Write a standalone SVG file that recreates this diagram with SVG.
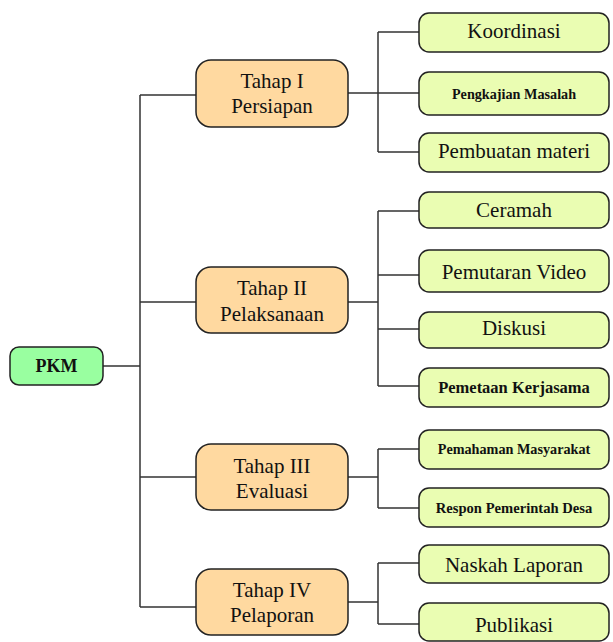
<svg xmlns="http://www.w3.org/2000/svg" width="613" height="642" viewBox="0 0 613 642">
<style>
.root{fill:#99FFA0;stroke:#222;stroke-width:1.5}
.stage{fill:#FFD9A0;stroke:#222;stroke-width:1.5}
.leaf{fill:#EAFDB2;stroke:#222;stroke-width:1.5}
.t{font-family:"Liberation Serif","Times New Roman",serif;fill:#111;text-anchor:middle}
.n{font-size:21px}
.b{font-weight:bold}
.conn{fill:none;stroke:#333;stroke-width:1.5}
</style>
<g id="connectors" class="conn">
<path d="M103 366H140M140 95V607M140 95H196M140 302H196M140 477H196M140 607H196"/>
<path d="M348 93H378M378 32V152M378 32H419M378 93H419M378 152H419"/>
<path d="M348 302H378M378 211V386M378 211H419M378 275H419M378 329H419M378 386H419"/>
<path d="M348 477H378M378 449V508M378 449H419M378 508H419"/>
<path d="M348 602H378M378 563V624M378 563H419M378 624H419"/>
</g>
<g id="pkm"><rect class="root" x="10" y="347" width="93" height="38" rx="9"/><text class="t b" x="56.5" y="372" font-size="18">PKM</text></g>
<g id="tahap1"><rect class="stage" x="196" y="60" width="152" height="67" rx="15"/><text class="t n" x="272" y="88">Tahap I</text><text class="t n" x="272" y="113">Persiapan</text></g>
<g id="tahap2"><rect class="stage" x="196" y="267" width="152" height="66" rx="15"/><text class="t n" x="272" y="295">Tahap II</text><text class="t n" x="272" y="321">Pelaksanaan</text></g>
<g id="tahap3"><rect class="stage" x="196" y="444" width="152" height="66" rx="15"/><text class="t n" x="272" y="473">Tahap III</text><text class="t n" x="272" y="498">Evaluasi</text></g>
<g id="tahap4"><rect class="stage" x="196" y="569" width="152" height="66" rx="15"/><text class="t n" x="272" y="597">Tahap IV</text><text class="t n" x="272" y="622">Pelaporan</text></g>
<g id="koordinasi"><rect class="leaf" x="419" y="13" width="190" height="39" rx="10"/><text class="t n" x="514" y="38">Koordinasi</text></g>
<g id="pengkajian"><rect class="leaf" x="419" y="72" width="190" height="43" rx="10"/><text class="t b" x="514" y="99" font-size="14.2">Pengkajian Masalah</text></g>
<g id="pembuatan"><rect class="leaf" x="419" y="133" width="190" height="39" rx="10"/><text class="t n" x="514" y="158">Pembuatan materi</text></g>
<g id="ceramah"><rect class="leaf" x="419" y="192" width="190" height="36" rx="10"/><text class="t n" x="514" y="217">Ceramah</text></g>
<g id="pemutaran"><rect class="leaf" x="419" y="250" width="190" height="42" rx="10"/><text class="t n" x="514" y="279">Pemutaran Video</text></g>
<g id="diskusi"><rect class="leaf" x="419" y="312" width="190" height="36" rx="10"/><text class="t n" x="514" y="335">Diskusi</text></g>
<g id="pemetaan"><rect class="leaf" x="419" y="368" width="190" height="39" rx="10"/><text class="t b" x="514" y="393" font-size="16.5">Pemetaan Kerjasama</text></g>
<g id="pemahaman"><rect class="leaf" x="419" y="430" width="190" height="39" rx="10"/><text class="t b" x="514" y="454" font-size="14.2">Pemahaman Masyarakat</text></g>
<g id="respon"><rect class="leaf" x="419" y="488" width="190" height="39" rx="10"/><text class="t b" x="514" y="513" font-size="14.6">Respon Pemerintah Desa</text></g>
<g id="naskah"><rect class="leaf" x="419" y="545" width="190" height="38" rx="10"/><text class="t n" x="514" y="572">Naskah Laporan</text></g>
<g id="publikasi"><rect class="leaf" x="419" y="603" width="190" height="38" rx="10"/><text class="t n" x="514" y="632">Publikasi</text></g>
</svg>
